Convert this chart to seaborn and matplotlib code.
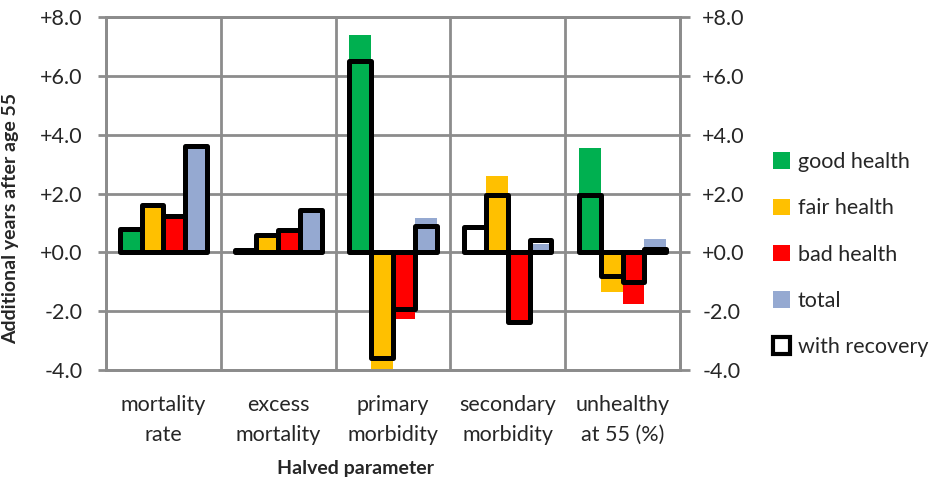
import matplotlib
matplotlib.use("Agg")
import matplotlib.pyplot as plt
from matplotlib.patches import Patch
import seaborn as sns
import pandas as pd
import numpy as np

# ---- data ----
categories = ["mortality\nrate", "excess\nmortality", "primary\nmorbidity",
              "secondary\nmorbidity", "unhealthy\nat 55 (%)"]
series = ["good health", "fair health", "bad health", "total"]
colors = ["#00B050", "#FFC000", "#FF0000", "#95A9D1"]

# without recovery (filled bars)
good_health = [0.68, 0.00, 7.40, 0.00, 3.54]
fair_health = [1.53, 0.51, -4.00, 2.59, -1.36]
bad_health = [1.19, 0.83, -2.25, -2.35, -1.76]
total = [3.55, 1.40, 1.17, 0.30, 0.46]

# with recovery (outlined bars)
good_health_rec = [0.78, 0.08, 6.49, 0.87, 1.95]
fair_health_rec = [1.62, 0.60, -3.60, 1.96, -0.79]
bad_health_rec = [1.25, 0.76, -1.93, -2.38, -1.00]
total_rec = [3.61, 1.44, 0.91, 0.42, 0.12]

yticks = [8, 6, 4, 2, 0, -2, -4]
ytick_labels = ["+8.0", "+6.0", "+4.0", "+2.0", "+0.0", "-2.0", "-4.0"]

def long_df(vals):
    rows = []
    for s, v in zip(series, vals):
        for c, x in zip(categories, v):
            rows.append({"param": c, "series": s, "value": x})
    return pd.DataFrame(rows)

df = long_df([good_health, fair_health, bad_health, total])
df_rec = long_df([good_health_rec, fair_health_rec, bad_health_rec, total_rec])

# ---- style ----
sns.set_style("white")
FONT = "Lato"
plt.rcParams["font.family"] = [FONT, "DejaVu Sans"]
FS = 15.5
FSB = 14
GRID = "#8C8C8C"

fig = plt.figure(figsize=(9.45, 4.86), dpi=100)
ax = fig.add_axes([106 / 945, 1 - 370 / 486, (680 - 106) / 945, (370 - 17) / 486])

sns.barplot(data=df, x="param", y="value", hue="series", order=categories,
            hue_order=series, palette=colors, saturation=1, width=0.76,
            legend=False, ax=ax, errorbar=None, linewidth=0)

ax2 = ax.twinx()
sns.barplot(data=df_rec, x="param", y="value", hue="series", order=categories,
            hue_order=series, palette=colors, saturation=1, width=0.76,
            legend=False, ax=ax2, errorbar=None)
for p in ax2.patches:
    p.set_facecolor("none")
    p.set_edgecolor("black")
    p.set_linewidth(3.6)
    p.set_joinstyle("round")

for a in (ax, ax2):
    a.set_ylim(-4, 8)
    a.set_xlim(-0.5, 4.5)
    a.set_yticks(yticks)
    a.set_xlabel("")
    a.set_ylabel("")
    for sp in a.spines.values():
        sp.set_color(GRID)
        sp.set_linewidth(2)

ax.set_yticklabels(ytick_labels, fontsize=FS)
ax2.set_yticklabels(ytick_labels, fontsize=FS)
ax.tick_params(axis="y", length=6, width=2, color=GRID, pad=11, direction="out")
ax2.tick_params(axis="y", length=7, width=2, color=GRID, pad=9, direction="out")

# grid
ax.set_axisbelow(True)
ax.grid(axis="y", color=GRID, linewidth=2)
ax.set_xticks(range(len(categories)))
ax.set_xticklabels(categories, fontsize=FS, linespacing=1.6)
ax.set_xticks(np.arange(-0.5, 5, 1), minor=True)
ax.grid(axis="x", which="minor", color=GRID, linewidth=2)
ax.grid(axis="x", which="major", visible=False)
ax.tick_params(axis="x", which="both", length=0)
ax.tick_params(axis="x", which="major", pad=18)

ax.set_ylabel("Additional years after age 55", fontsize=FSB, fontweight="bold")
ax.yaxis.set_label_coords(-0.152, 0.43)
ax.set_xlabel("Halved parameter", fontsize=FSB, fontweight="bold")
ax.xaxis.set_label_coords(0.434, -0.255)

handles = [Patch(facecolor=c, edgecolor="none") for c in colors]
handles.append(Patch(facecolor="white", edgecolor="black", linewidth=3.0, joinstyle="round"))
labels = series + ["with recovery"]
fig.legend(handles, labels, loc="center left", bbox_to_anchor=(0.818, 0.476),
           frameon=False, fontsize=FS, labelspacing=1.22, handlelength=0.8,
           handleheight=0.8, handletextpad=0.35, borderpad=0, borderaxespad=0)

fig.savefig("out.png", dpi=100)
